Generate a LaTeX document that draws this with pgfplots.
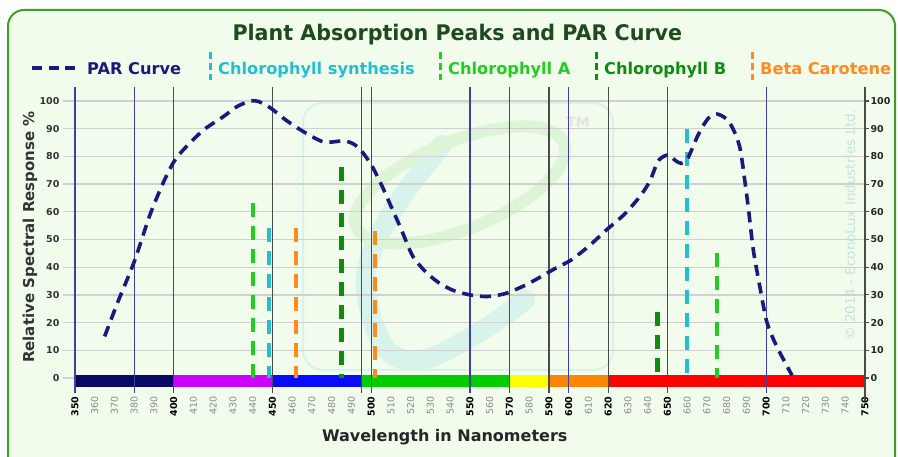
\documentclass[border=0pt]{standalone}
\usepackage{fontspec}
\setmainfont{DejaVu Sans}
\newfontfamily\condfont[FakeStretch=0.96]{DejaVu Sans}
\usepackage{pgfplots}
\pgfplotsset{compat=1.18}
\definecolor{bgfill}{HTML}{F2FCEC}
\definecolor{bordergreen}{HTML}{3C9E26}
\definecolor{gridgray}{HTML}{D0D0D0}
\definecolor{blueline}{HTML}{4040A0}
\definecolor{blackline}{HTML}{4A4A4A}
\definecolor{parnavy}{HTML}{1A1A7C}
\definecolor{synthcyan}{HTML}{22BFD0}
\definecolor{chlagreen}{HTML}{22CC22}
\definecolor{chlbgreen}{HTML}{108A10}
\definecolor{betaorange}{HTML}{FF8A20}
\definecolor{titlegreen}{HTML}{1E4A1E}
\definecolor{bandnavy}{HTML}{0A0A66}
\definecolor{bandpurple}{HTML}{CC00FF}
\definecolor{bandblue}{HTML}{0A0AFF}
\definecolor{bandgreen}{HTML}{00CC00}
\definecolor{bandyellow}{HTML}{FFFF00}
\definecolor{bandorange}{HTML}{FF8400}
\definecolor{bandred}{HTML}{FF0000}
\definecolor{mingray}{HTML}{8A8A8A}
\definecolor{labgray}{HTML}{333333}
\definecolor{wmcyan}{HTML}{D8F2EC}
\definecolor{wmgreen}{HTML}{DDF4D6}
\definecolor{copyc}{HTML}{C8E2DE}
\newcommand\maj[1]{\textcolor{black}{\bfseries #1}}
\newcommand\mnr[1]{\textcolor{mingray}{#1}}
\begin{document}
\begin{tikzpicture}[x=1pt,y=1pt]
\path[use as bounding box] (0,0) rectangle (898,457);
\fill[white] (0,0) rectangle (898,457);
\draw[bordergreen, line width=2pt, fill=bgfill, rounded corners=16pt] (8,-30) -- (8,447) -- (895,447) -- (895,-30);
% watermark
\draw[wmcyan, line width=2pt, rounded corners=20pt] (303,354) rectangle (613,87);
\draw[wmcyan, line width=20pt, line cap=round] plot[smooth, tension=0.6] coordinates {(442,312) (392,245) (366,180) (383,112) (420,97) (475,122) (525,157)};
\draw[wmgreen, line width=12pt, rotate around={22:(460,272)}] (460,272) ellipse (112 and 44);
\node[text=gridgray!60, font=\bfseries\fontsize{14}{14}\selectfont] at (578,335) {TM};
\node[rotate=90, text=copyc, font=\fontsize{13.5}{14}\selectfont] at (850,232) {© 2014 - EconoLux Industries Ltd.};

\begin{axis}[
  at={(75pt,64.04pt)}, anchor=south west, scale only axis,
  width=790pt, height=305.8pt,
  xmin=350, xmax=750, ymin=-5.4, ymax=105,
  axis line style={draw=none}, clip=false,
  major tick length=0pt,
  xtick={350,360,...,750},
  xticklabels={\maj{350},\mnr{360},\mnr{370},\mnr{380},\mnr{390},\maj{400},\mnr{410},\mnr{420},\mnr{430},\mnr{440},\maj{450},\mnr{460},\mnr{470},\mnr{480},\mnr{490},\maj{500},\mnr{510},\mnr{520},\mnr{530},\mnr{540},\maj{550},\mnr{560},\maj{570},\mnr{580},\maj{590},\maj{600},\mnr{610},\maj{620},\mnr{630},\mnr{640},\maj{650},\mnr{660},\mnr{670},\mnr{680},\mnr{690},\maj{700},\mnr{710},\mnr{720},\mnr{730},\mnr{740},\maj{750}},
  xticklabel style={rotate=90, anchor=east, font=\fontsize{9.5}{10}\selectfont},
  ytick={0,10,...,100},
  yticklabel style={font=\bfseries\fontsize{9.5}{10}\selectfont, text=labgray, xshift=-12pt},
  /pgf/number format/assume math mode=true,
  xlabel={Wavelength in Nanometers},
  xlabel style={at={(rel axis cs:0.468,-0.144)}, anchor=center, font=\bfseries\fontsize{16}{17}\selectfont, text=black!85},
  ylabel={Relative Spectral Response \%},
  ylabel style={at={(rel axis cs:-0.057,0.51)}, anchor=center, font=\bfseries\fontsize{15}{16}\selectfont, text=labgray},
  title={Plant Absorption Peaks and PAR Curve},
  title style={at={(rel axis cs:0.484,1.151)}, anchor=center, font=\condfont\bfseries\fontsize{21.5}{23}\selectfont, text=titlegreen},
]
% horizontal grid with left stubs
\pgfplotsinvokeforeach{0,10,20,30,40,50,60,70,80,90,100}{
  \draw[gridgray, line width=1.3pt] (axis cs:344,#1) -- (axis cs:750,#1);
}
% spectrum bands
\fill[bandnavy]   (axis cs:350,-3.4) rectangle (axis cs:400,1.1);
\fill[bandpurple] (axis cs:400,-3.4) rectangle (axis cs:450,1.1);
\fill[bandblue]   (axis cs:450,-3.4) rectangle (axis cs:495,1.1);
\fill[bandgreen]  (axis cs:495,-3.4) rectangle (axis cs:570,1.1);
\fill[bandyellow] (axis cs:570,-3.4) rectangle (axis cs:590,1.1);
\fill[bandorange] (axis cs:590,-3.4) rectangle (axis cs:620,1.1);
\fill[bandred]    (axis cs:620,-3.4) rectangle (axis cs:750,1.1);
% vertical reference lines
\pgfplotsinvokeforeach{350,380,500,550,600,650,700}{
  \draw[blueline, line width=1.3pt] (axis cs:#1,105) -- (axis cs:#1,-5.4);
}
\pgfplotsinvokeforeach{400,450,495,570,590,620}{
  \draw[blackline, line width=1.4pt] (axis cs:#1,105) -- (axis cs:#1,-5.4);
}
\draw[blackline, line width=1.8pt] (axis cs:750,105) -- (axis cs:750,-8.3);
% absorption peaks
\addplot[synthcyan, line width=4pt, dash pattern=on 14pt off 9pt] coordinates {(448,54) (448,0)};
\addplot[synthcyan, line width=4pt, dash pattern=on 14pt off 9pt] coordinates {(660,90) (660,0)};
\addplot[chlagreen, line width=4pt, dash pattern=on 14pt off 9pt] coordinates {(440,63) (440,0)};
\addplot[chlagreen, line width=4pt, dash pattern=on 14pt off 9pt] coordinates {(675,45) (675,0)};
\addplot[chlbgreen, line width=4.5pt, dash pattern=on 14pt off 9pt] coordinates {(485,76) (485,0)};
\addplot[chlbgreen, line width=4.5pt, dash pattern=on 14pt off 9pt] coordinates {(645,24) (645,0)};
\addplot[betaorange, line width=4pt, dash pattern=on 14pt off 9pt] coordinates {(462,54) (462,0)};
\addplot[betaorange, line width=4pt, dash pattern=on 14pt off 9pt] coordinates {(502,53) (502,0)};
% PAR curve
\addplot[parnavy, line width=3.6pt, dash pattern=on 11pt off 7pt, smooth, tension=0.45] coordinates {
(365,15) (372,28) (380,42) (388,59) (395,71) (400,78) (405,82.5) (415,89.5) (425,94.3) (432,98)
(439,100) (443,99.8) (449,97.5) (457,93) (466,88.8) (476,85.2) (486,85.6) (491,84.5) (495,82)
(500,77) (505,70) (510,62) (515,54) (521,44) (528,38) (535,34) (542,31.5) (550,30) (558,29.4)
(565,30) (570,31) (578,33.5) (586,36.6) (593,39.5) (601,42.5) (610,47.5) (619,53.4) (628,59)
(636,65.5) (641,71) (645,78) (648,80) (651,80.5) (654,78.5) (657,77.5) (660,79) (662,82) (665,87)
(668,91) (671,94) (675,95.3) (679,94) (682,91.5) (685,87) (687,82) (689,72) (691,61) (693.5,46)
(697,32) (700,21) (703,15) (707,9) (710,5) (713,1)};
\end{axis}

\begin{axis}[
  at={(75pt,64.04pt)}, anchor=south west, scale only axis,
  width=790pt, height=305.8pt,
  xmin=350, xmax=750, ymin=-5.4, ymax=105,
  axis line style={draw=none},
  xtick=\empty, ytick={0,10,...,100},
  ytick pos=right, yticklabel pos=right, tick align=outside,
  major tick length=4pt, major tick style={blackline, line width=1.2pt},
  yticklabel style={font=\bfseries\fontsize{9.5}{10}\selectfont, text=black!85, xshift=-2pt},
  /pgf/number format/assume math mode=true,
]
\end{axis}

% legend
\tikzset{legtext/.style={anchor=base west, inner sep=0pt, font=\bfseries\fontsize{16.2}{18}\selectfont}}
\draw[parnavy, line width=3.5pt, dash pattern=on 10pt off 6.5pt] (32,389) -- (75,389);
\node[legtext, text=parnavy] at (87,382) {PAR Curve};
\draw[synthcyan, line width=3pt, dash pattern=on 7pt off 4pt] (210,405) -- (210,377);
\node[legtext, text=synthcyan] at (218,382) {Chlorophyll synthesis};
\draw[chlagreen, line width=3pt, dash pattern=on 7pt off 4pt] (440,405) -- (440,377);
\node[legtext, text=chlagreen] at (448,382) {Chlorophyll A};
\draw[chlbgreen, line width=3pt, dash pattern=on 7pt off 4pt] (596,405) -- (596,377);
\node[legtext, text=chlbgreen] at (604,382) {Chlorophyll B};
\draw[betaorange, line width=3pt, dash pattern=on 7pt off 4pt] (752,405) -- (752,377);
\node[legtext, text=betaorange] at (760,382) {Beta Carotene};
\end{tikzpicture}
\end{document}
